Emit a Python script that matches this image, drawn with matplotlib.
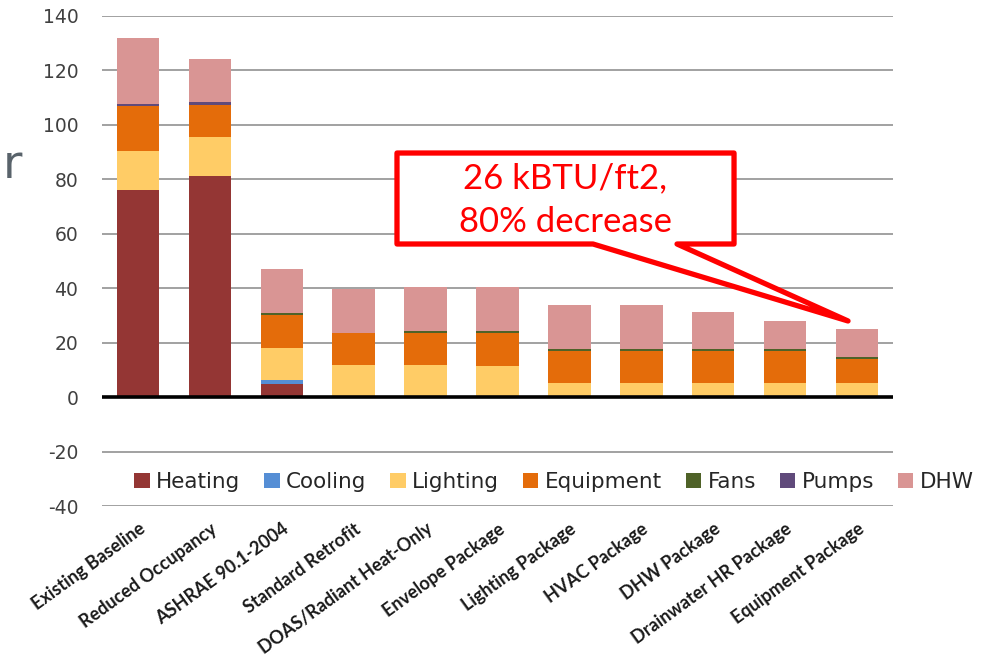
import matplotlib
matplotlib.use("Agg")
import matplotlib.pyplot as plt
import numpy as np
from matplotlib.patches import Polygon

plt.rcParams["axes.unicode_minus"] = False

categories = ["Existing Baseline", "Reduced Occupancy", "ASHRAE 90.1-2004",
              "Standard Retrofit", "DOAS/Radiant Heat-Only", "Envelope Package",
              "Lighting Package", "HVAC Package", "DHW Package",
              "Drainwater HR Package", "Equipment Package"]
heating   = [76.0, 81.1, 4.9, 0, 0, 0, 0, 0, 0, 0, 0]
cooling   = [0, 0, 1.5, 0, 0, 0, 0, 0, 0, 0, 0]
lighting  = [14.2, 14.4, 11.7, 12.0, 12.0, 11.6, 5.3, 5.1, 5.1, 5.1, 5.1]
equipment = [16.7, 11.7, 12.0, 11.6, 11.7, 11.9, 11.6, 11.8, 11.8, 11.8, 8.8]
fans      = [0, 0, 1.0, 0, 0.7, 0.7, 0.7, 0.7, 0.7, 0.7, 0.7]
pumps     = [0.6, 1.0, 0, 0, 0, 0, 0, 0, 0, 0, 0]
dhw       = [24.4, 16.0, 16.1, 16.1, 16.2, 16.3, 16.4, 16.1, 13.6, 10.4, 10.6]
series_names = ["Heating", "Cooling", "Lighting", "Equipment", "Fans", "Pumps", "DHW"]
series_colors = ["#943634", "#558ED5", "#FFCC66", "#E46C0A", "#4F6228", "#604A7B", "#D99594"]
yticks = [-40, -20, 0, 20, 40, 60, 80, 100, 120, 140]
callout_lines = ["26 kBTU/ft2,", "80% decrease"]

fig = plt.figure(figsize=(9.84, 6.65), dpi=100)
ax = fig.add_axes([102/984, 1-506.3/665, 791/984, (506.3-15.7)/665])

x = np.arange(len(categories))
bottom = np.zeros(len(categories))
handles = []
for name, vals, col in zip(series_names,
                           [heating, cooling, lighting, equipment, fans, pumps, dhw],
                           series_colors):
    v = np.array(vals, dtype=float)
    h = ax.bar(x, v, 0.59, bottom=bottom, color=col, label=name, zorder=3)
    handles.append(h)
    bottom += v

ax.set_xlim(-0.5, len(categories) - 0.5)
ax.set_ylim(-40, 140)
ax.set_yticks(yticks)
ax.yaxis.grid(True, color="#9a9a9a", lw=1.3, zorder=0)
ax.axhline(0, color="black", lw=2.6, zorder=4)
for s in ax.spines.values():
    s.set_visible(False)
ax.tick_params(axis="y", length=0, pad=17, labelsize=13.5, labelcolor="#404040")
ax.tick_params(axis="x", length=0, pad=10)
ax.set_xticks(x)
ax.set_xticklabels(categories, rotation=36, ha="right", va="top",
                   rotation_mode="anchor", fontsize=13, fontweight="bold",
                   family="Lato", color="#1a1a1a")

fig.legend(handles=handles, labels=series_names, loc="center",
           bbox_to_anchor=(554/984, 1-482/665), ncol=7, frameon=False,
           handlelength=0.72, handleheight=0.72, handletextpad=0.3,
           columnspacing=1.1, fontsize=15.5, labelcolor="#262626")

# callout
def px2d(px, py):
    return ((px - 138) / 71.9, (397.3 - py) / 2.726)
pts = [px2d(397, 153), px2d(734, 153), px2d(734, 244), px2d(677, 244),
       px2d(848, 321), px2d(593, 244), px2d(397, 244)]
poly = Polygon(pts, closed=True, facecolor="white", edgecolor="#ff0000",
               lw=3.8, joinstyle="round", zorder=6, clip_on=False)
ax.add_patch(poly)
for line, py in zip(callout_lines, [188, 232]):
    cx, cy = px2d(565, py)
    ax.text(cx, cy, line, color="#ff0000", fontsize=25, family="Lato",
            ha="center", va="baseline", zorder=7)

fig.text(0.003, 1-178/665, "r", fontsize=34, color="#59636b",
         ha="left", va="baseline")

fig.savefig("out.png", dpi=100)
